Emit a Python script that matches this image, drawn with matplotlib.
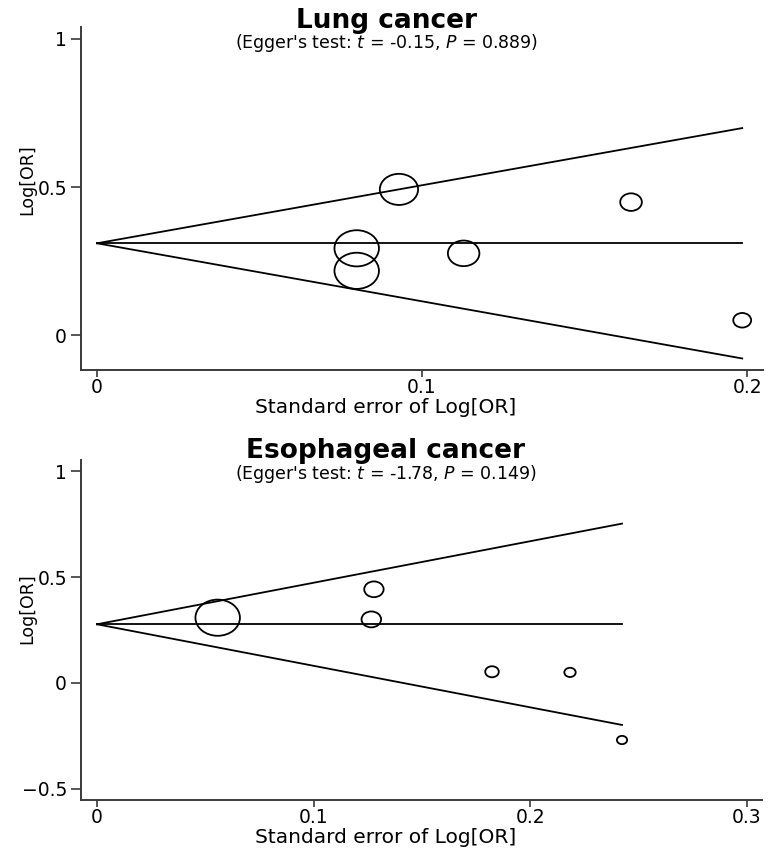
import matplotlib
matplotlib.use("Agg")
import matplotlib.pyplot as plt
import numpy as np
from matplotlib.path import Path
from matplotlib.markers import MarkerStyle

# Lung cancer studies: standard error and log odds ratio
lung_se = [0.0929, 0.0799, 0.0799, 0.1128, 0.1643, 0.1985]
lung_logor = [0.492, 0.293, 0.217, 0.276, 0.449, 0.050]
lung_pooled = 0.310
lung_xticks = [0, 0.1, 0.2]
lung_xticklabels = ["0", "0.1", "0.2"]
lung_yticks = [0, 0.5, 1]
lung_yticklabels = ["0", "0.5", "1"]

# Esophageal cancer studies
eso_se = [0.0557, 0.1278, 0.1266, 0.1823, 0.2183, 0.2423]
eso_logor = [0.308, 0.442, 0.300, 0.053, 0.050, -0.269]
eso_pooled = 0.277
eso_xticks = [0, 0.1, 0.2, 0.3]
eso_xticklabels = ["0", "0.1", "0.2", "0.3"]
eso_yticks = [-0.5, 0, 0.5, 1]
eso_yticklabels = ["\u22120.5", "0", "0.5", "1"]

titles = ["Lung cancer", "Esophageal cancer"]
subtitles = [
    "(Egger's test: $\\it{t}$ = -0.15, $\\it{P}$ = 0.889)",
    "(Egger's test: $\\it{t}$ = -1.78, $\\it{P}$ = 0.149)",
]

DPI = 100
W, H = 772, 848
SPINE = "#3a3a3a"

# slightly wide ellipse marker (the original figure is stretched sideways)
circ = Path.unit_circle()
ellipse = MarkerStyle(Path(circ.vertices * [1.23, 1.0], circ.codes))


def funnel(ax, se, logor, pooled, xlim, ylim, xticks, xticklabels, yticks, yticklabels):
    se = np.asarray(se)
    logor = np.asarray(logor)
    se_max = se.max()

    # pseudo 95% confidence limits
    xs = np.array([0, se_max])
    ax.plot(xs, [pooled, pooled], color="black", lw=1.3)
    ax.plot(xs, pooled + 1.96 * xs, color="black", lw=1.3)
    ax.plot(xs, pooled - 1.96 * xs, color="black", lw=1.3)

    # marker width proportional to 1/SE, largest ~44 px
    width_pt = 44.5 * se.min() / se * 72 / DPI
    ax.scatter(se, logor, s=width_pt ** 2, marker=ellipse, facecolors="none",
               edgecolors="black", linewidths=1.3, zorder=3, clip_on=False)

    ax.set_xlim(*xlim)
    ax.set_ylim(*ylim)
    ax.set_xticks(xticks)
    ax.set_xticklabels(xticklabels)
    ax.set_yticks(yticks)
    ax.set_yticklabels(yticklabels)
    for s in ["top", "right"]:
        ax.spines[s].set_visible(False)
    for s in ["left", "bottom"]:
        ax.spines[s].set_color(SPINE)
        ax.spines[s].set_linewidth(1.4)
    ax.tick_params(axis="x", length=5, width=1.2, color=SPINE, pad=1, labelsize=13.5)
    ax.tick_params(axis="y", length=7, width=1.2, color=SPINE, pad=3, labelsize=13.5)
    ax.set_xlabel("Standard error of Log[OR]", fontsize=14.5)
    ax.set_ylabel("Log[OR]", fontsize=12.5)


def main():
    fig = plt.figure(figsize=(W / DPI, H / DPI), dpi=DPI)

    ax1 = fig.add_axes([81 / W, 1 - 370 / H, 682 / W, 343 / H])
    funnel(ax1, lung_se, lung_logor, lung_pooled,
           (-0.00492, 0.2049), (-0.118, 1.0405),
           lung_xticks, lung_xticklabels, lung_yticks, lung_yticklabels)
    ax1.xaxis.set_label_coords((386 - 81) / 682, -0.0802)
    ax1.yaxis.set_label_coords(-0.066, 0.554)

    ax2 = fig.add_axes([81 / W, 1 - 800 / H, 681 / W, 340 / H])
    funnel(ax2, eso_se, eso_logor, eso_pooled,
           (-0.00738, 0.3069), (-0.552, 1.052),
           eso_xticks, eso_xticklabels, eso_yticks, eso_yticklabels)
    ax2.xaxis.set_label_coords((386 - 81) / 681, -0.0809)
    ax2.yaxis.set_label_coords(-0.066, 0.564)

    # titles centred on the figure
    fig.text(0.5, 1 - 28 / H, titles[0], ha="center", va="baseline",
             fontsize=19, fontweight="bold")
    fig.text(0.5, 1 - 48 / H, subtitles[0], ha="center", va="baseline", fontsize=12.5)
    fig.text(0.5, 1 - 458 / H, titles[1], ha="center", va="baseline",
             fontsize=19, fontweight="bold")
    fig.text(0.5, 1 - 479 / H, subtitles[1], ha="center", va="baseline", fontsize=12.5)

    fig.savefig("out.png", dpi=DPI)


if __name__ == "__main__":
    main()
